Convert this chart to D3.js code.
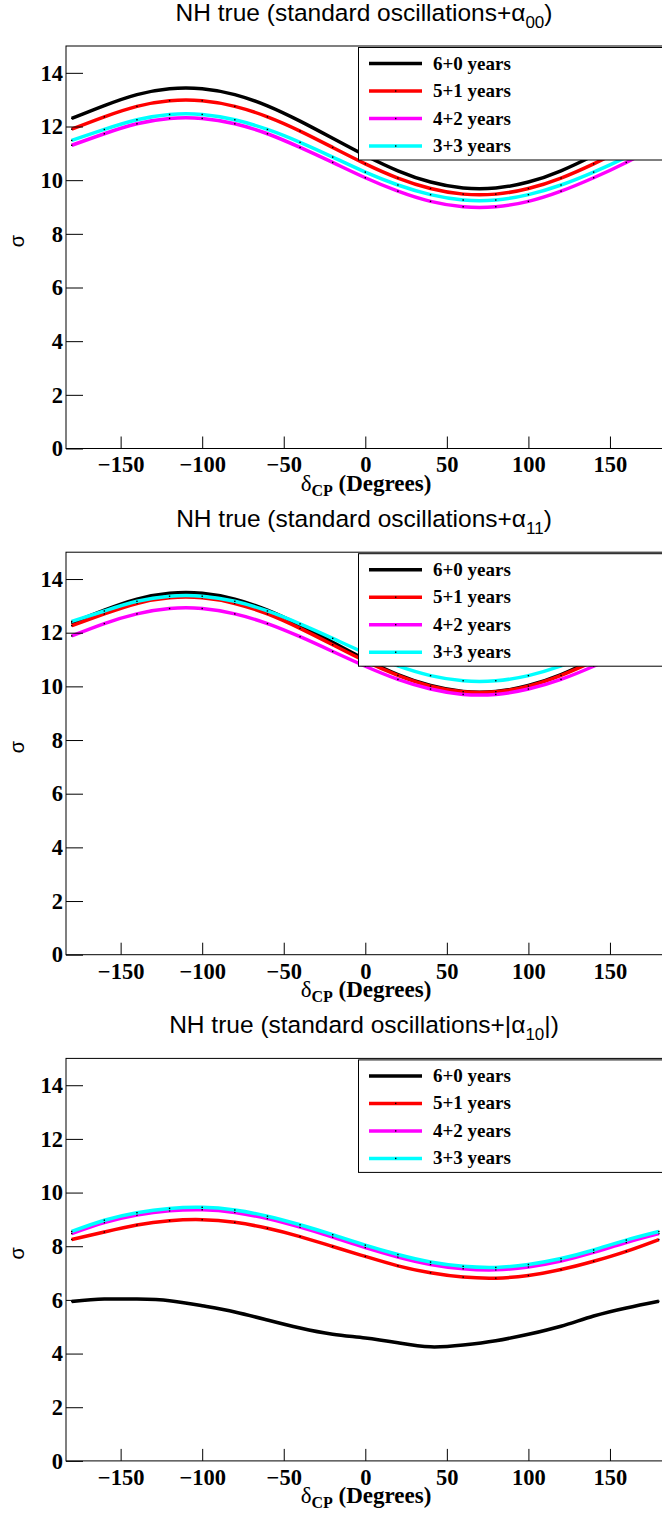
<!DOCTYPE html>
<html>
<head>
<meta charset="utf-8">
<script src="https://cdn.jsdelivr.net/npm/d3@7"></script>
<style>
  html, body { margin: 0; padding: 0; background: #fff; }
  svg { display: block; }
</style>
</head>
<body>
<div id="main"></div>
<script>
// delta_CP sampling (degrees)
var deltaCP = [-180, -160, -140, -120, -100, -80, -60, -40, -20, 0, 20, 40, 60, 80, 100, 120, 140, 160, 180];

var seriesLabels = ['6+0 years', '5+1 years', '4+2 years', '3+3 years'];
var seriesColors = ['#000000', '#ff0000', '#ff00ff', '#00ffff'];

// panel 1 : alpha_00
var a00_6p0 = [12.30, 12.78, 13.19, 13.41, 13.41, 13.19, 12.77, 12.20, 11.56, 10.92, 10.35, 9.93, 9.71, 9.71, 9.93, 10.35, 10.92, 11.56, 12.30];
var a00_5p1 = [11.90, 12.36, 12.75, 12.96, 12.96, 12.75, 12.36, 11.83, 11.22, 10.61, 10.08, 9.69, 9.48, 9.48, 9.69, 10.08, 10.61, 11.22, 11.90];
var a00_4p2 = [11.30, 11.73, 12.10, 12.30, 12.30, 12.10, 11.73, 11.22, 10.66, 10.09, 9.59, 9.21, 9.01, 9.01, 9.21, 9.59, 10.09, 10.66, 11.30];
var a00_3p3 = [11.48, 11.89, 12.25, 12.45, 12.45, 12.25, 11.89, 11.41, 10.86, 10.30, 9.82, 9.46, 9.26, 9.26, 9.46, 9.82, 10.30, 10.86, 11.48];

// panel 2 : alpha_11
var a11_6p0 = [12.36, 12.84, 13.25, 13.47, 13.47, 13.25, 12.84, 12.28, 11.64, 11.00, 10.44, 10.03, 9.81, 9.81, 10.03, 10.44, 11.00, 11.64, 12.36];
var a11_5p1 = [12.26, 12.70, 13.09, 13.30, 13.30, 13.09, 12.70, 12.16, 11.55, 10.94, 10.41, 10.01, 9.80, 9.80, 10.01, 10.41, 10.94, 11.55, 12.26];
var a11_4p2 = [11.88, 12.34, 12.70, 12.90, 12.90, 12.70, 12.34, 11.85, 11.30, 10.75, 10.26, 9.90, 9.70, 9.70, 9.90, 10.26, 10.75, 11.30, 11.88];
var a11_3p3 = [12.42, 12.81, 13.17, 13.36, 13.36, 13.17, 12.81, 12.33, 11.79, 11.24, 10.76, 10.40, 10.21, 10.21, 10.40, 10.76, 11.24, 11.79, 12.42];

// panel 3 : |alpha_10|
var a10_6p0 = [5.94, 6.03, 6.03, 5.97, 5.78, 5.55, 5.25, 4.95, 4.72, 4.58, 4.40, 4.25, 4.32, 4.48, 4.72, 5.02, 5.40, 5.70, 5.95];
var a10_5p1 = [8.25, 8.53, 8.79, 8.95, 8.99, 8.89, 8.67, 8.36, 7.99, 7.62, 7.27, 7.01, 6.85, 6.81, 6.91, 7.13, 7.44, 7.81, 8.25];
var a10_4p2 = [8.47, 8.88, 9.16, 9.32, 9.36, 9.26, 9.03, 8.71, 8.34, 7.95, 7.60, 7.32, 7.16, 7.12, 7.23, 7.45, 7.77, 8.14, 8.47];
var a10_3p3 = [8.55, 8.97, 9.25, 9.41, 9.45, 9.35, 9.12, 8.80, 8.43, 8.04, 7.69, 7.41, 7.25, 7.21, 7.32, 7.54, 7.86, 8.23, 8.55];

// title pieces: [before subscript, subscript, after]
var titles = [
  ['NH true (standard oscillations+\u03b1', '00', ')'],
  ['NH true (standard oscillations+\u03b1', '11', ')'],
  ['NH true (standard oscillations+|\u03b1', '10', '|)']
];

var yTicks = [0, 2, 4, 6, 8, 10, 12, 14];
var xTicks = [-150, -100, -50, 0, 50, 100, 150];

var panelSeries = [
  [a00_6p0, a00_5p1, a00_4p2, a00_3p3],
  [a11_6p0, a11_5p1, a11_4p2, a11_3p3],
  [a10_6p0, a10_5p1, a10_4p2, a10_3p3]
];


function Sketch() {
  this.width = 662;
  this.height = 1517;
  this.left = 66;
  this.right = 664.6;
  this.plotH = 402.5;
  this.step = 506.2;
  this.firstTop = 46;
}

Sketch.prototype.init = function() {
  this.svg = d3.select('#main')
    .append('svg')
    .attr('width', this.width)
    .attr('height', this.height);

  this.svg.append('rect')
    .attr('width', this.width)
    .attr('height', this.height)
    .attr('fill', '#fff');
};

Sketch.prototype.drawPanel = function(p) {
  var top = this.firstTop + p * this.step;
  var bottom = top + this.plotH;

  var x = d3.scaleLinear().domain([-183.5, 183.5]).range([this.left, this.right]);
  var y = d3.scaleLinear().domain([0, 15]).range([bottom, top]);

  var g = this.svg.append('g').attr('class', 'panel-' + p);

  g.append('clipPath')
    .attr('id', 'clip' + p)
    .append('rect')
    .attr('x', this.left)
    .attr('y', top)
    .attr('width', this.right - this.left)
    .attr('height', this.plotH);

  // title
  var t = g.append('text')
    .attr('x', 364)
    .attr('y', top - 25)
    .attr('text-anchor', 'middle')
    .attr('font-family', 'Liberation Sans, Arial, sans-serif')
    .attr('font-size', 24.5)
    .attr('fill', '#000');
  t.append('tspan').text(titles[p][0]);
  t.append('tspan').attr('dy', 7).attr('font-size', 17).text(titles[p][1]);
  t.append('tspan').attr('dy', -7).text(titles[p][2]);

  // curves
  var line = d3.line()
    .x(function(d) { return x(d[0]); })
    .y(function(d) { return y(d[1]); })
    .curve(d3.curveNatural);

  var curves = g.append('g').attr('clip-path', 'url(#clip' + p + ')');
  panelSeries[p].forEach(function(vals, i) {
    var pts = deltaCP.map(function(d, k) { return [d, vals[k]]; });
    curves.append('path')
      .attr('d', line(pts))
      .attr('fill', 'none')
      .attr('stroke', seriesColors[i])
      .attr('stroke-width', 3.5)
      .attr('stroke-linejoin', 'round');
    // tiny point markers
    curves.selectAll('rect.pt' + i)
      .data(pts)
      .enter()
      .append('rect')
      .attr('class', 'pt' + i)
      .attr('x', function(d) { return x(d[0]) - 0.7; })
      .attr('y', function(d) { return y(d[1]) - 0.7; })
      .attr('width', 1.4)
      .attr('height', 1.4)
      .attr('fill', '#000');
  });

  // axes (ROOT style: ticks inside)
  var yAxis = d3.axisLeft(y)
    .tickValues(yTicks)
    .tickFormat(d3.format('d'))
    .tickSize(-17)
    .tickSizeOuter(0)
    .tickPadding(3);
  var yMinor = d3.axisLeft(y)
    .tickValues(d3.range(0, 15.01, 0.5))
    .tickFormat('')
    .tickSize(-9)
    .tickSizeOuter(0);
  var xAxis = d3.axisBottom(x)
    .tickValues(xTicks)
    .tickSize(-12)
    .tickSizeOuter(0)
    .tickPadding(8);
  var xMinor = d3.axisBottom(x)
    .tickValues(d3.range(-180, 181, 10))
    .tickFormat('')
    .tickSize(-6)
    .tickSizeOuter(0);

  var ag = g.append('g').attr('transform', 'translate(' + this.left + ',0)');
  ag.call(yMinor);
  ag.call(yAxis);
  var bg = g.append('g').attr('transform', 'translate(0,' + bottom + ')');
  bg.call(xMinor);
  bg.call(xAxis);

  [ag, bg].forEach(function(a) {
    a.selectAll('.domain').remove();
    a.selectAll('line').attr('stroke', '#000').attr('stroke-width', 1);
    a.selectAll('text')
      .attr('font-family', 'Liberation Serif, Times New Roman, serif')
      .attr('font-weight', 'bold')
      .attr('font-size', 22.5)
      .attr('fill', '#000');
  });

  // frame
  g.append('rect')
    .attr('x', this.left)
    .attr('y', top)
    .attr('width', this.right - this.left)
    .attr('height', this.plotH)
    .attr('fill', 'none')
    .attr('stroke', '#000')
    .attr('stroke-width', 1);

  // axis titles
  var xt = g.append('text')
    .attr('x', 366)
    .attr('y', bottom + 42)
    .attr('text-anchor', 'middle')
    .attr('font-family', 'Liberation Serif, Times New Roman, serif')
    .attr('font-weight', 'bold')
    .attr('font-size', 23)
    .attr('fill', '#000');
  xt.append('tspan').attr('font-weight', 'normal').text('\u03b4');
  xt.append('tspan').attr('dy', 5).attr('font-size', 16).text('CP');
  xt.append('tspan').attr('dy', -5).text(' (Degrees)');

  g.append('text')
    .attr('transform', 'translate(24,' + (top + 195) + ') rotate(-90)')
    .attr('text-anchor', 'middle')
    .attr('font-family', 'Liberation Sans, Arial, sans-serif')
    .attr('font-size', 20)
    .attr('fill', '#000')
    .text('\u03c3');

  // legend
  var lg = g.append('g').attr('class', 'legend');
  lg.append('rect')
    .attr('x', 358.5)
    .attr('y', top + 1.5)
    .attr('width', 320)
    .attr('height', 112.5)
    .attr('fill', '#fff')
    .attr('stroke', '#000')
    .attr('stroke-width', 1);

  var rows = lg.selectAll('g.row')
    .data(seriesLabels)
    .enter()
    .append('g')
    .attr('class', 'row')
    .attr('transform', function(d, i) { return 'translate(0,' + (top + 17.5 + i * 27.5) + ')'; });

  rows.append('line')
    .attr('x1', 369)
    .attr('x2', 422)
    .attr('y1', 0)
    .attr('y2', 0)
    .attr('stroke', function(d, i) { return seriesColors[i]; })
    .attr('stroke-width', 3.5);

  rows.append('rect')
    .attr('x', 395)
    .attr('y', -0.7)
    .attr('width', 1.4)
    .attr('height', 1.4)
    .attr('fill', '#000');

  rows.append('text')
    .attr('x', 433)
    .attr('y', 6)
    .attr('font-family', 'Liberation Serif, Times New Roman, serif')
    .attr('font-weight', 'bold')
    .attr('font-size', 19)
    .attr('fill', '#000')
    .text(function(d) { return d; });
};

Sketch.prototype.render = function() {
  for (var p = 0; p < 3; p++) {
    this.drawPanel(p);
  }
};

document.addEventListener('DOMContentLoaded', function() {
  var s = new Sketch();
  s.init();
  s.render();
});
</script>
</body>
</html>
